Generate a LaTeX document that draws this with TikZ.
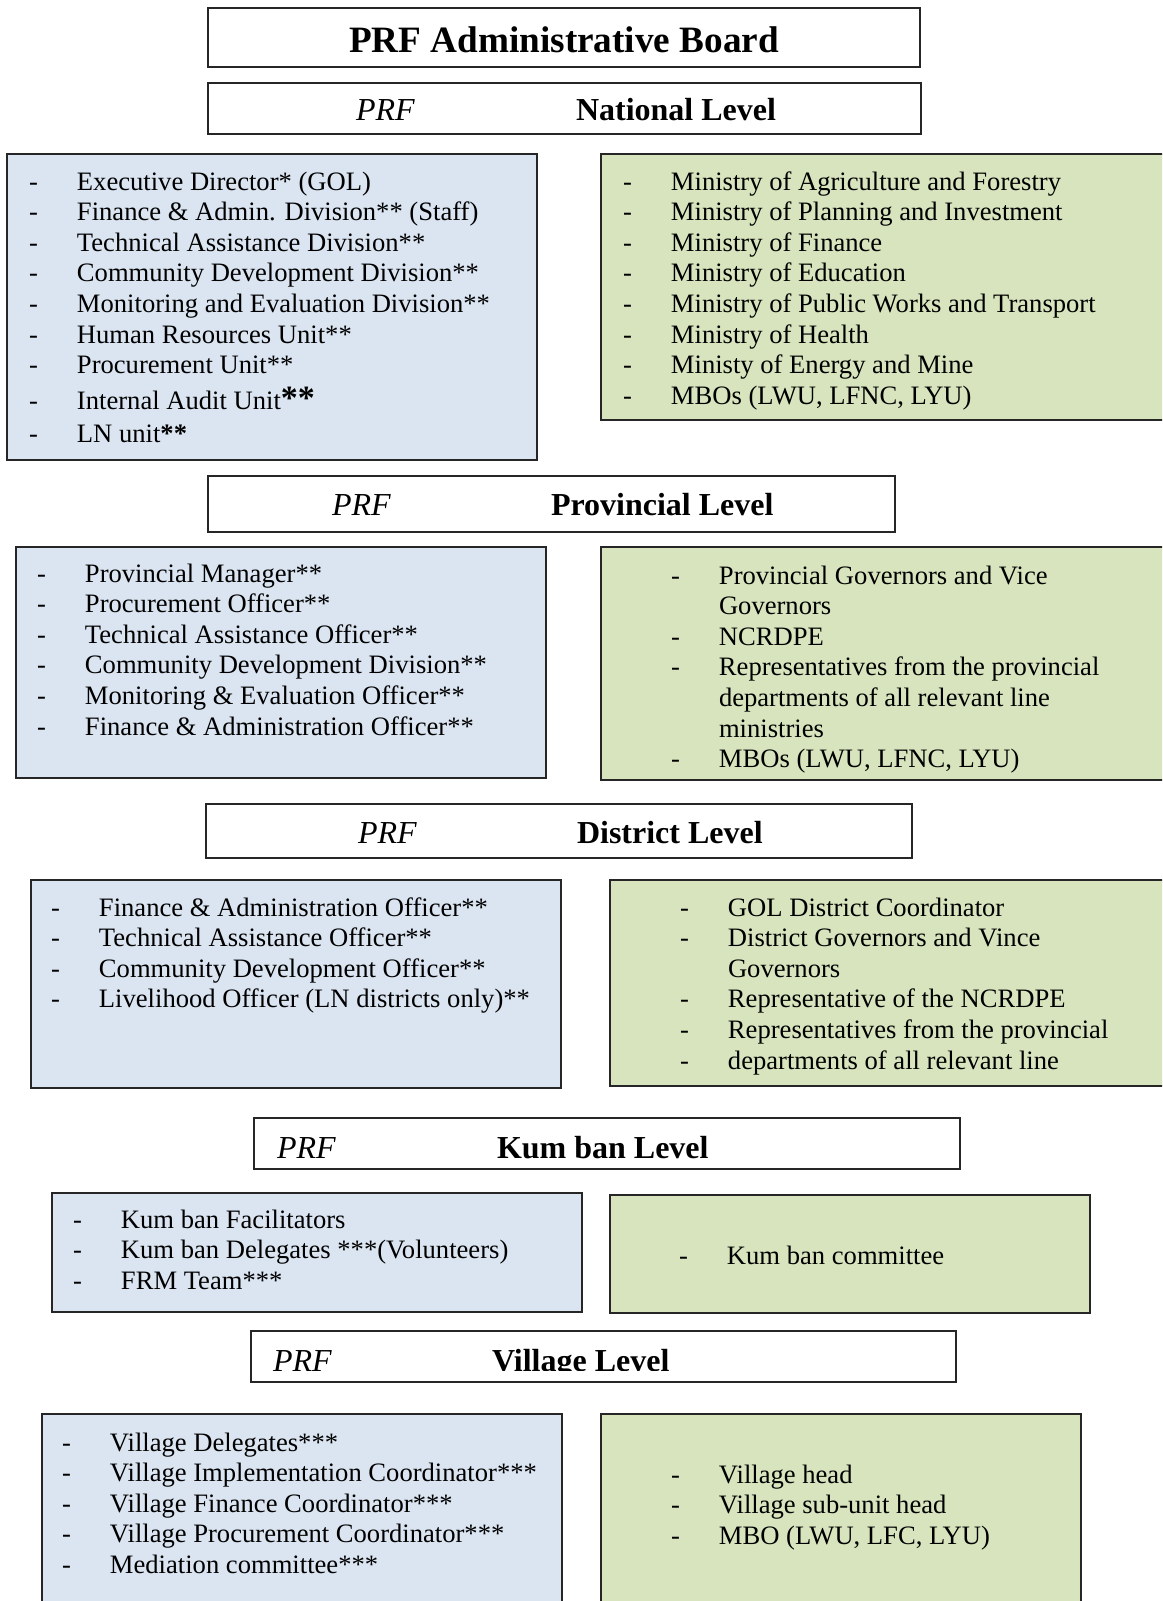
\documentclass[tikz,border=0pt]{standalone}
\usepackage{fontspec}
\setmainfont{Liberation Serif}
\definecolor{bluefill}{HTML}{DBE5F1}
\definecolor{greenfill}{HTML}{D7E4BD}
\tikzset{
  levelbox/.style={draw=black!85,fill=white},
  bluebox/.style={draw=black!85,fill=bluefill},
  greenbox/.style={draw=black!85,fill=greenfill},
  items/.style={anchor=base west,inner sep=0pt,font=\fontsize{13.3}{15.3}\selectfont},
  prf/.style={anchor=base west,inner sep=0pt,font=\fontsize{16}{19}\selectfont\itshape},
  lvl/.style={anchor=base west,inner sep=0pt,font=\fontsize{16}{19}\selectfont\bfseries}
}
\newcommand{\itemlist}[1]{\begin{tabular}[t]{@{}p{24pt}@{}l@{}}#1\end{tabular}}
\newcommand{\bigstars}{{\fontsize{17}{17}\selectfont\bfseries **}}
\begin{document}
\begin{tikzpicture}[x=0.5pt,y=-0.5pt,line width=1pt,line join=miter]
\useasboundingbox (0,0) rectangle (1162,1601);
\clip (0,0) rectangle (1162,1601);
\draw[levelbox] (208,8) rectangle (920,67);
\node[inner sep=0pt,font=\fontsize{18.6}{22}\selectfont\bfseries] (board) at (564,40) {PRF Administrative Board};
\draw[levelbox] (208,83) rectangle (921,134);
\node[prf] (natPRF) at (355,120) {PRF};
\node[lvl] (natLevel) at (575,120) {National Level};
\draw[bluebox] (7,154) rectangle (537,460);
\node[items] (natStaff) at (28,190) {\itemlist{
- & Executive Director* (GOL)\\
- & Finance \& Admin. Division** (Staff)\\
- & Technical Assistance Division**\\
- & Community Development Division**\\
- & Monitoring and Evaluation Division**\\
- & Human Resources Unit**\\
- & Procurement Unit**\\[2pt]
- & Internal Audit Unit\bigstars\\[1.5pt]
- & LN unit\textbf{**}}};
\draw[greenbox] (601,154) rectangle (1175,420);
\node[items] (natLine) at (622,190) {\itemlist{
- & Ministry of Agriculture and Forestry\\
- & Ministry of Planning and Investment\\
- & Ministry of Finance\\
- & Ministry of Education\\
- & Ministry of Public Works and Transport\\
- & Ministry of Health\\
- & Ministy of Energy and Mine\\
- & MBOs (LWU, LFNC, LYU)}};
\draw[levelbox] (208,476) rectangle (895,532);
\node[prf] (provPRF) at (331,515) {PRF};
\node[lvl] (provLevel) at (550,515) {Provincial Level};
\draw[bluebox] (16,547) rectangle (546,778);
\node[items] (provStaff) at (36,582) {\itemlist{
- & Provincial Manager**\\
- & Procurement Officer**\\
- & Technical Assistance Officer**\\
- & Community Development Division**\\
- & Monitoring \& Evaluation Officer**\\
- & Finance \& Administration Officer**}};
\draw[greenbox] (601,547) rectangle (1175,780);
\node[items] (provLine) at (670,584) {\itemlist{
- & Provincial Governors and Vice\\
  & Governors\\
- & NCRDPE\\
- & Representatives from the provincial\\
  & departments of all relevant line\\
  & ministries\\
- & MBOs (LWU, LFNC, LYU)}};
\draw[levelbox] (206,804) rectangle (912,858);
\node[prf] (distPRF) at (357,843) {PRF};
\node[lvl] (distLevel) at (576,843) {District Level};
\draw[bluebox] (31,880) rectangle (561,1088);
\node[items] (distStaff) at (50,916) {\itemlist{
- & Finance \& Administration Officer**\\
- & Technical Assistance Officer**\\
- & Community Development Officer**\\
- & Livelihood Officer (LN districts only)**}};
\draw[greenbox] (610,880) rectangle (1175,1086);
\node[items] (distLine) at (679,916) {\itemlist{
- & GOL District Coordinator\\
- & District Governors and Vince\\
  & Governors\\
- & Representative of the NCRDPE\\
- & Representatives from the provincial\\
- & departments of all relevant line}};
\draw[levelbox] (254,1118) rectangle (960,1169);
\node[prf] (kumPRF) at (276,1158) {PRF};
\node[lvl] (kumLevel) at (496,1158) {Kum ban Level};
\draw[bluebox] (52,1193) rectangle (582,1312);
\node[items] (kumStaff) at (72,1228) {\itemlist{
- & Kum ban Facilitators\\
- & Kum ban Delegates ***(Volunteers)\\
- & FRM Team***}};
\draw[greenbox] (610,1195) rectangle (1090,1313);
\node[items] (kumLine) at (678,1264) {\itemlist{
- & Kum ban committee}};
\draw[levelbox] (251,1331) rectangle (956,1382);
\begin{scope}
\clip (251,1331) rectangle (956,1370);
\node[prf] (vilPRF) at (272,1371) {PRF};
\node[lvl] (vilLevel) at (491,1371) {Village Level};
\end{scope}
\draw[bluebox] (42,1414) rectangle (562,1620);
\node[items] (vilStaff) at (61,1451) {\itemlist{
- & Village Delegates***\\
- & Village Implementation Coordinator***\\
- & Village Finance Coordinator***\\
- & Village Procurement Coordinator***\\
- & Mediation committee***}};
\draw[greenbox] (601,1414) rectangle (1081,1620);
\node[items] (vilLine) at (670,1483) {\itemlist{
- & Village head\\
- & Village sub-unit head\\
- & MBO (LWU, LFC, LYU)}};
\end{tikzpicture}
\end{document}
